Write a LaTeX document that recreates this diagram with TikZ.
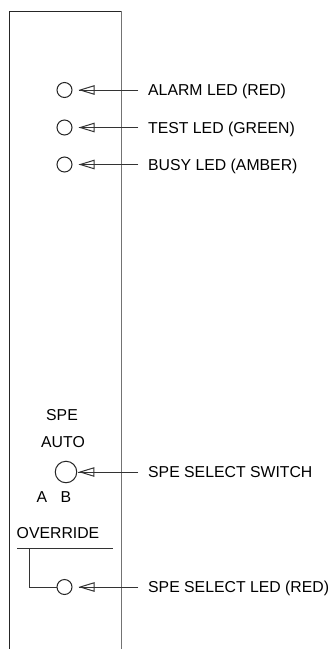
\documentclass[tikz,border=0pt]{standalone}
\usepackage{fontspec}
\setmainfont{Liberation Sans}
\usetikzlibrary{arrows.meta}
\begin{document}
\begin{tikzpicture}[x=1pt,y=-1pt,
  every node/.style={font=\fontsize{15.8}{18}\selectfont, inner sep=0pt},
  led/.style={draw=black!85, circle, line width=1pt, minimum size=15pt},
  sw/.style={draw=black!85, circle, line width=1pt, minimum size=21.5pt},
  lbl/.style={anchor=base west},
  ctr/.style={anchor=base},
  panel/.style={line width=1pt, draw=black!85},
  panelr/.style={line width=1.3pt, draw=black!55},
  wire/.style={line width=1pt, draw=black!80},
  ptr/.style={line width=1pt, draw=black!80,
    -{Triangle[open, length=16pt, width=9.5pt, line width=1pt]},
    postaction={draw, -}}
]
\useasboundingbox (0,0) rectangle (333,649);
% panel
\coordinate (ptl) at (9.5,11);
\coordinate (ptr) at (121.5,11);
\coordinate (pbl) at (9.5,649);
\coordinate (pbr) at (121.5,649);
\draw[panel] (pbl) -- (ptl) -- (ptr);
\draw[panelr] (ptr) -- (pbr);

% LEDs
\node[led] (alarm) at (64.5,90) {};
\node[led] (test) at (64.5,127.5) {};
\node[led] (busy) at (64.5,164.5) {};
\node[sw] (switch) at (66,472) {};
\node[led] (sel) at (64.5,587) {};

% labels
\node[lbl] (talarm) at (148,95.7) {ALARM LED (RED)};
\node[lbl] (ttest) at (148,133.2) {TEST LED (GREEN)};
\node[lbl] (tbusy) at (148,170.2) {BUSY LED (AMBER)};
\node[lbl] (tswitch) at (148,477.7) {SPE SELECT SWITCH};
\node[lbl] (tsel) at (148,592.7) {SPE SELECT LED (RED)};

\node[ctr] (spe) at (62,420.7) {SPE};
\node[ctr] (auto) at (63,447.7) {AUTO};
\node[ctr] (ta) at (42,502.7) {A};
\node[ctr] (tb) at (66,502.7) {B};
\node[ctr] (ovr) at (58,538.7) {OVERRIDE};

% connectors
\draw[ptr, shorten >=6pt] ([xshift=-10pt]talarm.west |- alarm.east) -- (alarm.east);
\draw[ptr, shorten >=6pt] ([xshift=-10pt]ttest.west |- test.east) -- (test.east);
\draw[ptr, shorten >=6pt] ([xshift=-10pt]tbusy.west |- busy.east) -- (busy.east);
\draw[ptr, shorten >=1.2pt] ([xshift=-10pt]tswitch.west |- switch.east) -- (switch.east);
\draw[ptr, shorten >=6pt] ([xshift=-10pt]tsel.west |- sel.east) -- (sel.east);

% override bracket
\coordinate (ol) at (17,548);
\coordinate (or) at (113,548);
\coordinate (ov) at (29,548);
\draw[wire] (ol) -- (or);
\draw[wire] (ov) |- (sel.west);
\end{tikzpicture}
\end{document}
